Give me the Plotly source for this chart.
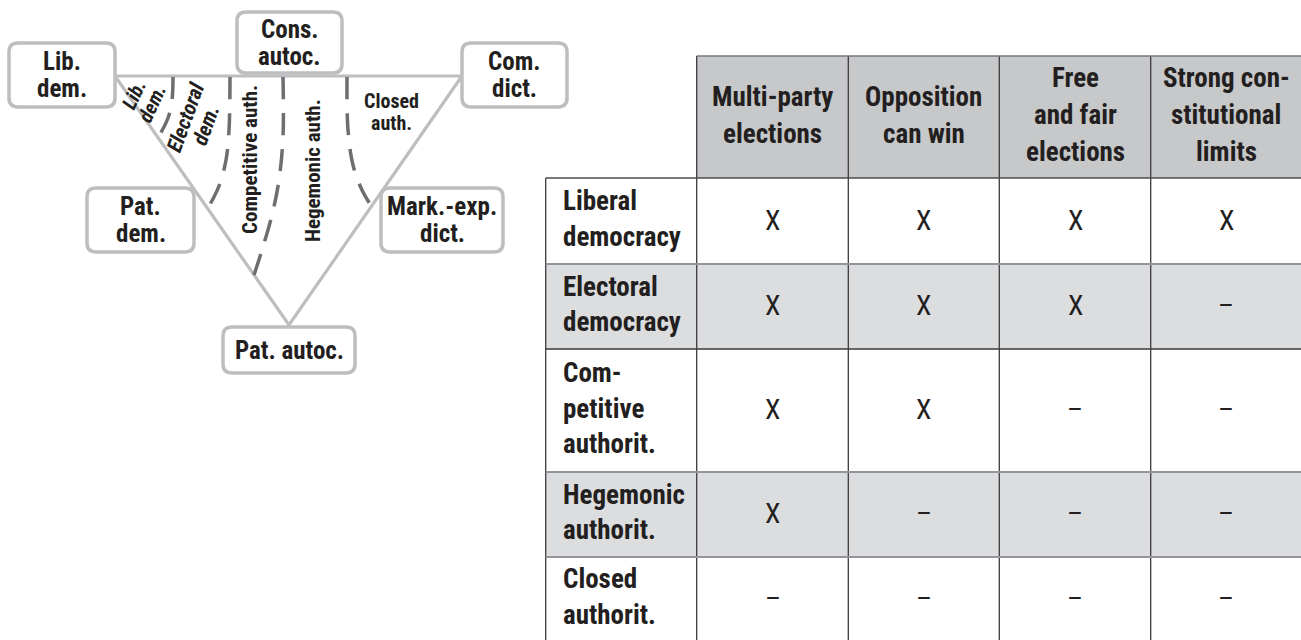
import math
import plotly.graph_objects as go

# ---------------- data ----------------
table_columns = ["Multi-party\nelections", "Opposition\ncan win", "Free\nand fair\nelections",
                 "Strong con-\nstitutional\nlimits"]
table_rows = ["Liberal\ndemocracy", "Electoral\ndemocracy", "Com-\npetitive\nauthorit.",
              "Hegemonic\nauthorit.", "Closed\nauthorit."]
multi_party_elections = ["X", "X", "X", "X", "–"]
opposition_can_win = ["X", "X", "X", "–", "–"]
free_and_fair = ["X", "X", "–", "–", "–"]
constitutional_limits = ["X", "–", "–", "–", "–"]
table_values = [multi_party_elections, opposition_can_win, free_and_fair, constitutional_limits]
shaded_rows = [False, True, False, True, False]

vertex_labels = ["Lib.\ndem.", "Cons.\nautoc.", "Com.\ndict.", "Pat.\ndem.", "Mark.-exp.\ndict.", "Pat. autoc."]
region_labels = ["Lib.\ndem.", "Electoral\ndem.", "Competitive auth.", "Hegemonic auth.", "Closed\nauth."]

# ---------------- layout geometry (pixels) ----------------
W, H = 1301, 640
FONT = "Liberation Sans Narrow, Roboto Condensed, DejaVu Sans Condensed, Arial Narrow, sans-serif"
INK = "#231f20"
BOX_LINE = "#bcbec0"
DASH_LINE = "#6d6e71"

box_rects = [(9, 43, 115, 107), (237, 12, 342, 73), (462, 43, 567, 107),
             (87, 188, 194, 252), (381, 188, 503, 252), (223, 327, 355, 373)]
triangle = [(115, 76), (462, 76), (289, 325)]
boundary_curves = [
    [(173, 77), (172, 100), (168, 118), (159, 136)],
    [(230, 77), (229, 130), (226, 160), (219, 186), (208, 208)],
    [(283, 77), (283, 137), (279, 180), (272, 215), (262, 250), (254, 275)],
    [(347, 77), (348, 130), (353, 165), (362, 190), (372, 207)],
]
# x, y, angle, size, bold, italic, line spacing
region_style = [
    (143, 99, -65, 20, True, True, 21),
    (196, 121, -70, 21, True, True, 21),
    (250, 160, -90, 21, True, False, 20),
    (313, 171, -90, 21, True, False, 20),
    (391, 112, 0, 20, True, False, 22),
]

col_x = [545.7, 696.7, 848.3, 999.3, 1150.7, 1302]
row_y = [56, 178, 264, 349, 472, 557, 641]
TABLE_FONT = 27

fig = go.Figure()


def add_text(text, x, y, size, spacing, angle=0, bold=True, italic=False, xanchor="center"):
    lines = text.split("\n")
    n = len(lines)
    th = math.radians(angle)
    dx, dy = -math.sin(th), math.cos(th)
    for i, ln in enumerate(lines):
        off = (i - (n - 1) / 2) * spacing
        t = ln
        if bold:
            t = f"<b>{t}</b>"
        if italic:
            t = f"<i>{t}</i>"
        fig.add_annotation(x=x + off * dx, y=y + off * dy, text=t, textangle=angle,
                           showarrow=False, xanchor=xanchor, yanchor="middle",
                           borderpad=0,
                           font=dict(family=FONT, size=size, color=INK))


def rrect(x0, y0, x1, y1, r):
    return (f"M{x0 + r},{y0} L{x1 - r},{y0} Q{x1},{y0} {x1},{y0 + r} L{x1},{y1 - r} "
            f"Q{x1},{y1} {x1 - r},{y1} L{x0 + r},{y1} Q{x0},{y1} {x0},{y1 - r} "
            f"L{x0},{y0 + r} Q{x0},{y0} {x0 + r},{y0} Z")


# ---- triangle ----
tx = [p[0] for p in triangle] + [triangle[0][0]]
ty = [p[1] for p in triangle] + [triangle[0][1]]
fig.add_trace(go.Scatter(x=tx, y=ty, mode="lines", line=dict(color=BOX_LINE, width=3.2),
                         hoverinfo="skip", showlegend=False))

# ---- dashed boundaries ----
for c in boundary_curves:
    fig.add_trace(go.Scatter(x=[p[0] for p in c], y=[p[1] for p in c], mode="lines",
                             line=dict(color=DASH_LINE, width=3.5, dash="22px,14px", shape="spline"),
                             hoverinfo="skip", showlegend=False))

# ---- vertex boxes ----
for (x0, y0, x1, y1), lab in zip(box_rects, vertex_labels):
    fig.add_shape(type="path", path=rrect(x0, y0, x1, y1, 9), xref="x", yref="y",
                  line=dict(color=BOX_LINE, width=3.5), fillcolor="white", layer="above")
    add_text(lab, (x0 + x1) / 2, (y0 + y1) / 2, 25, 27)

# ---- region labels ----
for lab, (x, y, ang, sz, b, it, sp) in zip(region_labels, region_style):
    add_text(lab, x, y, sz, sp, angle=ang, bold=b, italic=it)

# ---- table fills ----
for j in range(len(table_columns)):
    fig.add_shape(type="rect", x0=col_x[j + 1], x1=col_x[j + 2], y0=row_y[0], y1=row_y[1],
                  fillcolor="#c7c8ca", line=dict(width=0), layer="below")
for i, sh in enumerate(shaded_rows):
    if sh:
        fig.add_shape(type="rect", x0=col_x[0], x1=col_x[-1], y0=row_y[i + 1], y1=row_y[i + 2],
                      fillcolor="#dcdddf", line=dict(width=0), layer="below")

# ---- table lines ----
fig.add_shape(type="line", x0=col_x[0], x1=col_x[0], y0=row_y[1], y1=row_y[-1],
              line=dict(color="#3a3a3c", width=1.3))
for xv in col_x[1:-1]:
    fig.add_shape(type="line", x0=xv, x1=xv, y0=row_y[0], y1=row_y[-1],
                  line=dict(color="#3a3a3c", width=1.3))
hline_styles = {0: ("#77787b", 1.6), 1: ("#4d4d4f", 1.6), 2: ("#939598", 2),
                3: ("#3a3a3c", 1.5), 4: ("#939598", 2.2), 5: ("#939598", 2.2)}
for k, (colr, wd) in hline_styles.items():
    x_start = col_x[1] if k == 0 else col_x[0]
    fig.add_shape(type="line", x0=x_start, x1=col_x[-1], y0=row_y[k], y1=row_y[k],
                  line=dict(color=colr, width=wd))

# ---- table text ----
for j, lab in enumerate(table_columns):
    add_text(lab, (col_x[j + 1] + col_x[j + 2]) / 2, 115, TABLE_FONT, 37)
for i, lab in enumerate(table_rows):
    yc = (row_y[i + 1] + row_y[i + 2]) / 2
    add_text(lab, col_x[0] + 16, yc - 2, TABLE_FONT, 35.5, xanchor="left")
    for j, vals in enumerate(table_values):
        add_text(vals[i], (col_x[j + 1] + col_x[j + 2]) / 2, yc - 1, 28, 30, bold=False)

fig.update_layout(
    width=W, height=H, margin=dict(l=0, r=0, t=0, b=0),
    paper_bgcolor="white", plot_bgcolor="white", showlegend=False,
    xaxis=dict(range=[0, W], visible=False, fixedrange=True),
    yaxis=dict(range=[H, 0], visible=False, fixedrange=True),
)
fig.write_html("out.html", config={"displayModeBar": False},
               post_script="document.body.style.margin='0';document.body.style.overflow='hidden';")
